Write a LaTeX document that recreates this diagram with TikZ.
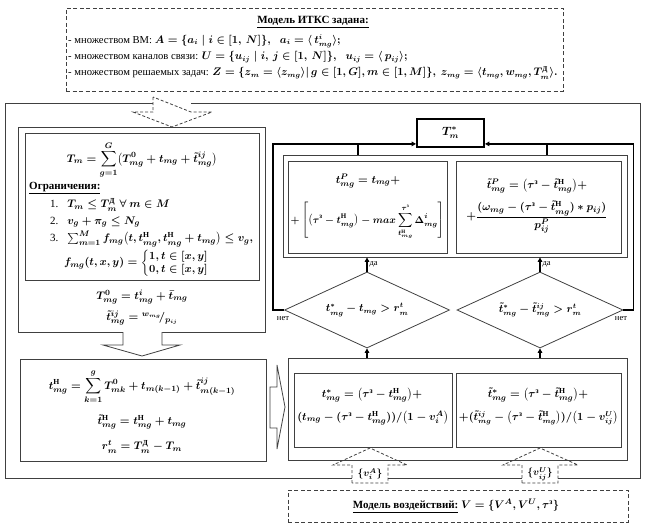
\documentclass[tikz,border=0pt]{standalone}
\usepackage{amsmath}
\usepackage{fontspec}
\setmainfont{Liberation Serif}
\usetikzlibrary{shapes.geometric,arrows.meta,calc}
\newcommand{\cy}[1]{\text{\normalfont\bfseries #1}}
\newcommand{\lineA}{- множеством ВМ: $A=\{a_i\mid i\in[1,\,N]\},\;\; a_i=\langle\, t^{i}_{mg}\rangle;$}
\newcommand{\lineB}{- множеством каналов связи: $U=\{u_{ij}\mid i,\,j\in[1,\,N]\},\;\; u_{ij}=\langle\, p_{ij}\rangle;$}
\newcommand{\lineC}{- множеством решаемых задач: $Z=\{z_m=\langle z_{mg}\rangle|\,g\in[1,G],m\in[1,M]\},\ z_{mg}=\langle t_{mg},w_{mg},T^{\cy{Д}}_{m}\rangle.$}
\newcommand{\titleA}{\underline{Модель ИТКС задана:}}
\newcommand{\titleB}{\underline{Ограничения:}}
\newcommand{\titleC}{\textbf{\underline{Модель воздействий:}} $V=\{V^{A},V^{U},\tau^{\cy{з}}\}$}
\definecolor{frm}{gray}{0.25}
\tikzset{
  box/.style={draw=frm, line width=0.8pt, inner sep=0pt},
  dbox/.style={draw=frm, line width=0.8pt, dashed, dash pattern=on 4pt off 2.5pt, inner sep=0pt},
  fml/.style={font=\fontsize{11}{13}\selectfont\boldmath, inner sep=0pt},
  dfml/.style={font=\fontsize{10.5}{12}\selectfont\boldmath, inner sep=0pt},
  txt/.style={font=\fontsize{10.6}{12}\selectfont\boldmath, inner sep=0pt},
  btxt/.style={font=\fontsize{11}{12}\selectfont\bfseries, inner sep=0pt},
  conn/.style={line width=1.1pt, draw=black, -{Triangle[length=4.5pt,width=4.5pt]}},
  cond/.style={diamond, draw=frm, line width=0.8pt, inner sep=0pt, shape aspect=2.2},
  small/.style={font=\fontsize{8.5}{9}\selectfont, inner sep=0pt},
  dshape/.style={draw=frm, line width=0.8pt, dashed, dash pattern=on 3pt off 2pt},
  hshape/.style={draw=frm, line width=0.8pt, fill=white},
}
\begin{document}
\begin{tikzpicture}[x=1pt,y=-1pt]
\useasboundingbox (0,0) rectangle (647,525);

% main frame
\draw[frm, line width=0.8pt] (5,103) rectangle (640,478);

% top model box
\node[dbox, minimum width=497pt, minimum height=83pt] (top) at (314.5,49.5) {};
\node[btxt] (ttl) at (313,22) {\titleA};
\node[txt, anchor=west] (l1) at (68,41) {\lineA};
\node[txt, anchor=west] (l2) at (68,57) {\lineB};
\node[txt, anchor=west] (l3) at (68,73) {\lineC};

% dashed arrow from top box
\fill[white] (153,97) rectangle (191,112);
\draw[dshape] (153,97) -- (153,112) -- (133,112) -- (172,127) -- (212,112) -- (191,112) -- cycle;

% left upper block
\node[box, minimum width=247pt, minimum height=205pt] (lo) at (141.5,229.5) {};
\node[box, minimum width=234pt, minimum height=147pt] (li) at (142,206.5) {};
\node[fml] (f1) at (142,160) {$\displaystyle T_m=\sum_{g=1}^{G}\bigl(T^{0}_{mg}+t_{mg}+\tilde t^{ij}_{mg}\bigr)$};
\node[btxt, anchor=west] (ogr) at (29,188) {\titleB};
\node[fml, anchor=west] (c1) at (50,205) {1.\hspace{9pt}$T_m\le T^{\cy{Д}}_{m}\ \forall\ m\in M$};
\node[fml, anchor=west] (c2) at (50,222) {2.\hspace{9pt}$v_g+\pi_g\le N_g$};
\node[fml, anchor=west] (c3) at (50,239) {3.\hspace{9pt}$\sum_{m=1}^{M} f_{mg}\bigl(t,t^{\cy{Н}}_{mg},t^{\cy{Н}}_{mg}+t_{mg}\bigr)\le v_g,$};
\node[fml] (c4) at (142,263) {$f_{mg}(t,x,y)=\begin{cases}1,t\in[x,y]\\[-3pt]0,t\in[x,y]\end{cases}$};
\node[fml] (f2) at (142,297) {$T^{0}_{mg}=t^{i}_{mg}+\bar t_{mg}$};
\node[fml] (f3) at (142,318) {$\tilde t^{ij}_{mg}={}^{w_{mg}}\!/_{p_{ij}}$};

% hollow arrow down
\draw[hshape] (123,332) -- (123,345) -- (103,345) -- (142,356) -- (180,345) -- (162,345) -- (162,332);

% left lower block
\node[box, minimum width=246pt, minimum height=102pt] (lb) at (143,410) {};
\node[fml] (g1) at (142,387) {$\displaystyle t^{\cy{Н}}_{mg}=\sum_{k=1}^{g}T^{0}_{mk}+t_{m(k-1)}+\tilde t^{ij}_{m(k-1)}$};
\node[fml] (g2) at (142,422) {$\tilde t^{\cy{Н}}_{mg}=t^{\cy{Н}}_{mg}+t_{mg}$};
\node[fml] (g3) at (142,447) {$r^{t}_{m}=T^{\cy{Д}}_{m}-T_m$};

% hollow arrow right
\draw[hshape] (270,387) -- (277,387) -- (277,365) -- (285,407) -- (277,449) -- (277,428) -- (270,428) -- cycle;

% T* box
\node[draw=black, line width=1.8pt, minimum width=67pt, minimum height=28pt, inner sep=0pt, font=\fontsize{12}{13}\selectfont\boldmath] (ts) at (450.5,133) {$T^{*}_{m}$};

% upper right blocks
\node[box, minimum width=344pt, minimum height=102pt] (uo) at (455,206) {};
\node[box, minimum width=159pt, minimum height=92pt] (ul) at (367.5,207) {};
\node[box, minimum width=165pt, minimum height=92pt] (ur) at (538.5,207) {};
\node[fml] (u1) at (368,181) {$t^{P}_{mg}=t_{mg}+$};
\node[fml, font=\fontsize{10}{12}\selectfont\boldmath] (u2) at (367.5,221) {$\displaystyle +\left[\bigl(\tau^{\cy{з}}-t^{\cy{Н}}_{mg}\bigr)-max\sum_{t^{\cy{Н}}_{mg}}^{\tau^{\cy{з}}}\Delta^{i}_{mg}\right]$};
\node[fml] (v1) at (537,186) {$\tilde t^{P}_{mg}=\bigl(\tau^{\cy{з}}-\tilde t^{\cy{Н}}_{mg}\bigr)+$};
\node[fml] (v2) at (537,217) {$\displaystyle +\frac{(\omega_{mg}-(\tau^{\cy{з}}-\tilde t^{\cy{Н}}_{mg})*p_{ij})}{p^{P}_{ij}}$};

% diamonds
\node[cond, minimum width=165pt, minimum height=76pt, dfml] (dl) at (367,310) {$t^{*}_{mg}-t_{mg}>r^{t}_{m}$};
\node[cond, minimum width=166pt, minimum height=76pt, dfml] (dr) at (540,310) {$\tilde t^{*}_{mg}-\tilde t^{ij}_{mg}>r^{t}_{m}$};

% lower right blocks
\node[box, minimum width=339pt, minimum height=102pt] (bo) at (457.5,409) {};
\node[box, minimum width=158pt, minimum height=74pt] (bl) at (373,410) {};
\node[box, minimum width=165pt, minimum height=74pt] (br) at (538.5,410) {};
\node[fml] (b1) at (372,395) {$t^{*}_{mg}=\bigl(\tau^{\cy{з}}-t^{\cy{Н}}_{mg}\bigr)+$};
\node[fml] (b2) at (373,418) {$(t_{mg}-(\tau^{\cy{з}}-t^{\cy{Н}}_{mg}))/\bigl(1-v^{A}_{i}\bigr)$};
\node[fml] (b3) at (538,395) {$\tilde t^{*}_{mg}=\bigl(\tau^{\cy{з}}-\tilde t^{\cy{Н}}_{mg}\bigr)+$};
\node[fml, font=\fontsize{10.7}{13}\selectfont\boldmath] (b4) at (538.5,418) {$+(\tilde t^{ij}_{mg}-\bigl(\tau^{\cy{з}}-\tilde t^{\cy{Н}}_{mg}\bigr))/\bigl(1-v^{U}_{ij}\bigr)$};

% connectors
\coordinate (tl) at (358,143);
\coordinate (tr) at (547,143);
\draw[conn, line width=1.8pt] (dl.west) -- ++(-11,0) |- ([yshift=4pt]ts.south west);
\draw[conn, line width=1.8pt] (dr.east) -- ++(10,0) |- ([yshift=4pt]ts.south east);
\draw[line width=1.1pt] (uo.north -| tl) -- (tl);
\draw[line width=1.1pt] (uo.north -| tr) -- (tr);
\draw[conn] (dl.north) -- (dl.north |- uo.south) node[small, midway, right=2pt] {да};
\draw[conn] (dr.north) -- (dr.north |- uo.south) node[small, midway, right=2pt] {да};
\draw[conn] (dl.south |- bo.north) -- (dl.south);
\draw[conn] (dr.south |- bo.north) -- (dr.south);
\node[small] (n1) at (283,319) {нет};
\node[small] (n2) at (621,319) {нет};

% dashed arrows from bottom
\fill[white] (352,465) rectangle (388,483);
\draw[dshape] (352,483) -- (352,465) -- (333,465) -- (370,448) -- (407,465) -- (388,465) -- (388,483) -- cycle;
\node[dfml, font=\fontsize{10}{11}\selectfont\boldmath] (va) at (370,474) {$\{v^{A}_{i}\}$};
\fill[white] (522,465) rectangle (558,483);
\draw[dshape] (522,483) -- (522,465) -- (503,465) -- (540,448) -- (578,465) -- (558,465) -- (558,483) -- cycle;
\node[dfml, font=\fontsize{10}{11}\selectfont\boldmath] (vu) at (540,474) {$\{v^{U}_{ij}\}$};

% bottom model box
\node[dbox, minimum width=340pt, minimum height=32pt] (mv) at (458,506) {};
\node[txt, font=\fontsize{11}{12}\selectfont\boldmath] (mvt) at (456,506) {\titleC};
\end{tikzpicture}
\end{document}
